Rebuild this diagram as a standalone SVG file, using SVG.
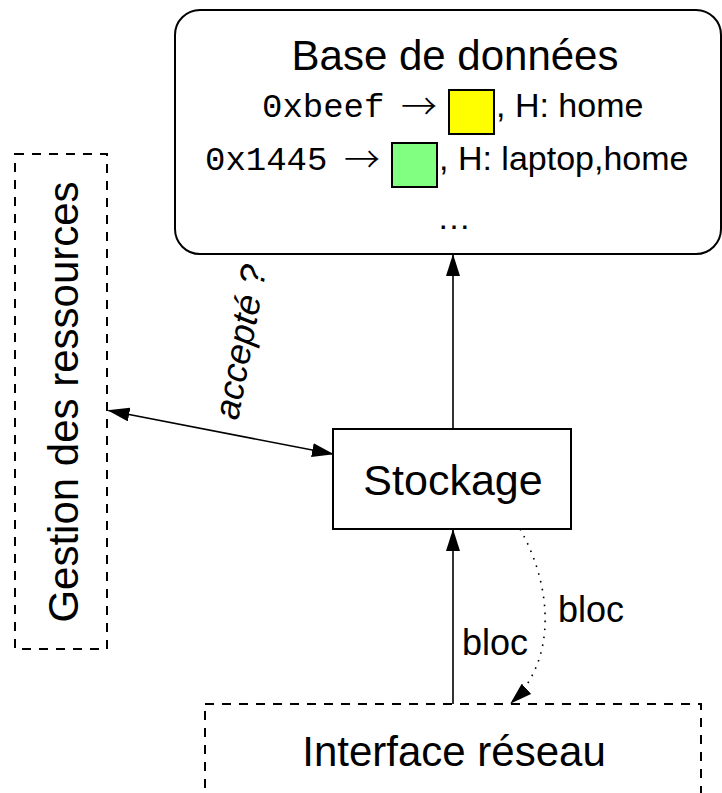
<svg xmlns="http://www.w3.org/2000/svg" width="722" height="793" viewBox="0 0 722 793">
<defs>
<style>
.t{font-family:"Liberation Sans","DejaVu Sans",sans-serif;fill:#000}
.big{font-size:42px}
.mid{font-size:34px}
.lab{font-size:36px}
.arr{font-family:"Noto Sans CJK SC","DejaVu Sans",sans-serif;font-size:36px;font-weight:300;fill:#000}
.mono{font-family:"Liberation Mono","DejaVu Sans Mono",monospace;font-size:34px;fill:#000}
.box{fill:#fff;stroke:#000;stroke-width:2}
.dash{fill:none;stroke:#000;stroke-width:2;stroke-dasharray:9 8}
.ln{fill:none;stroke:#000;stroke-width:1.6}
.sw{stroke:#000;stroke-width:2}
</style>
<marker id="ah" viewBox="0 0 22 14" refX="21" refY="7" markerWidth="22" markerHeight="14" markerUnits="userSpaceOnUse" orient="auto-start-reverse">
<path d="M0,0 L22,7 L0,14 Z" fill="#000"/>
</marker>
</defs>

<g id="db">
<rect class="box" x="175" y="10" width="546" height="244" rx="25"/>
<text class="t big" x="455" y="70" text-anchor="middle">Base de données</text>
<text class="mono" x="262" y="117">0xbeef</text>
<text class="arr" x="401" y="120">→</text>
<rect class="sw" x="449" y="90" width="45" height="44" fill="#ffff00"/>
<text class="t mid" x="496" y="117">, H: home</text>
<text class="mono" x="205" y="170">0x1445</text>
<text class="arr" x="344" y="173">→</text>
<rect class="sw" x="392" y="143" width="45" height="44" fill="#80ff80"/>
<text class="t mid" x="439" y="170">, H: laptop,home</text>
<text class="t mid" x="454" y="229" text-anchor="middle">…</text>
</g>

<g id="gestion">
<rect class="dash" x="15" y="154" width="92" height="495"/>
<text class="t big" transform="translate(78 402) rotate(-90)" text-anchor="middle">Gestion des ressources</text>
</g>

<g id="stockage">
<rect class="box" x="333" y="429" width="238" height="100"/>
<text class="t big" x="453" y="495" text-anchor="middle" style="font-size:43px">Stockage</text>
</g>

<g id="interface">
<rect class="dash" x="205" y="704" width="496" height="90"/>
<text class="t big" x="454" y="766" text-anchor="middle">Interface réseau</text>
</g>

<g id="connectors">
<line class="ln" x1="453" y1="429" x2="453" y2="255" marker-end="url(#ah)"/>
<line class="ln" x1="108.5" y1="410.5" x2="333" y2="454" marker-start="url(#ah)" marker-end="url(#ah)"/>
<line class="ln" x1="453" y1="704" x2="453" y2="530" marker-end="url(#ah)"/>
<path class="ln" d="M520,529 C552,585 558,660 511,703" stroke-dasharray="1.6 6.4" marker-end="url(#ah)"/>
<text class="t lab" transform="translate(238 421) rotate(-79.4)" font-style="italic">accepté ?</text>
<text class="t lab" x="462" y="655">bloc</text>
<text class="t lab" x="558" y="622">bloc</text>
</g>
</svg>
